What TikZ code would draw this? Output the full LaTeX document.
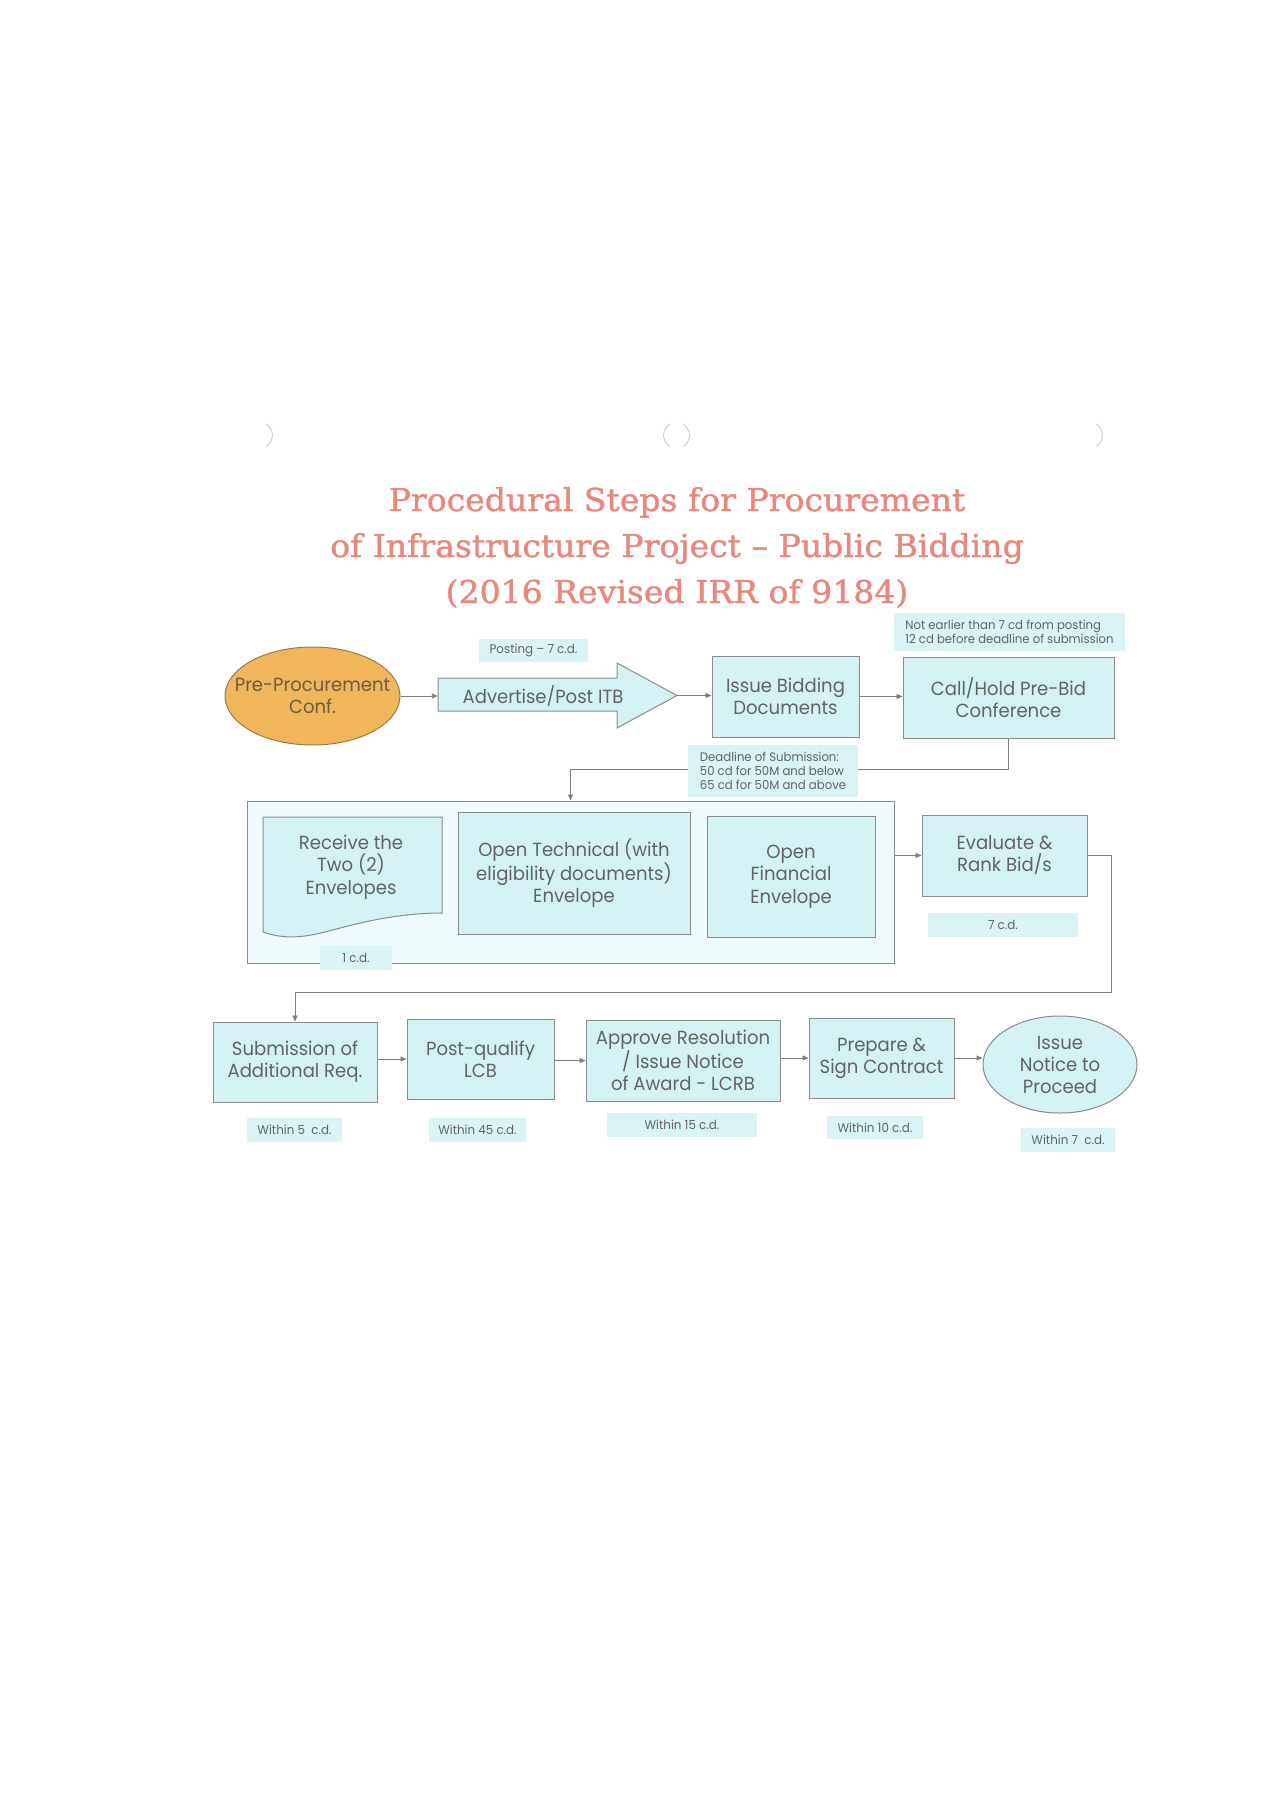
\documentclass[tikz,border=0pt]{standalone}
\usepackage{fontspec}
\setmainfont{Poppins}[FakeStretch=0.95]
\newfontfamily\titlefont{DejaVu Serif}[FakeStretch=1.05,FakeBold=1.2]
\newfontfamily\notefont{Poppins}[FakeStretch=0.95]
\usetikzlibrary{shapes.geometric,arrows.meta,calc}
\definecolor{boxfill}{HTML}{D4F2F4}
\definecolor{lblfill}{HTML}{DAF4F6}
\definecolor{bigfill}{HTML}{EEFAFB}
\definecolor{boxline}{HTML}{8C8C8C}
\definecolor{txtgray}{HTML}{636363}
\definecolor{titlecol}{HTML}{E8877C}
\definecolor{orangefill}{HTML}{F1B65C}
\definecolor{orangeline}{HTML}{9B7B4A}
\definecolor{orangetxt}{HTML}{6F5C43}
\definecolor{holecol}{HTML}{C8C8C8}
\tikzset{
  stepbox/.style={draw=boxline, fill=boxfill, line width=1pt, align=center, text=txtgray,
    font=\fontsize{19}{22}\selectfont, inner sep=0pt},
  lbl/.style={fill=lblfill, text=txtgray, inner sep=0pt, align=center,
    font=\notefont\fontsize{12.5}{14.5}\selectfont},
  note/.style={fill=lblfill, text=txtgray, inner sep=0pt, align=left,
    font=\notefont\fontsize{12.3}{14}\selectfont},
  arr/.style={draw=boxline!90!black, line width=0.9pt, -{Triangle[length=6pt,width=5pt]}},
  ttl/.style={text=titlecol, font=\titlefont\fontsize{31.5}{46}\selectfont, anchor=base, inner sep=0pt},
  hole/.style={draw=holecol, line width=0.8pt}
}
\begin{document}
\begin{tikzpicture}[x=1pt,y=-1pt]
\useasboundingbox[fill=white] (0,0) rectangle (1272,1800);

% scan punch-hole marks
\draw[hole] (266,424) arc[start angle=60,end angle=-60,radius=13pt];
\draw[hole] (670,424) arc[start angle=120,end angle=240,radius=13pt];
\draw[hole] (683,424) arc[start angle=60,end angle=-60,radius=13pt];
\draw[hole] (1096,424) arc[start angle=60,end angle=-60,radius=13pt];

% title
\node[ttl] (t1) at (677,511) {Procedural Steps for Procurement};
\node[ttl] (t2) at (677,557) {of Infrastructure Project – Public Bidding};
\node[ttl] (t3) at (677,603) {(2016 Revised IRR of 9184)};

% top row
\node[ellipse, draw=orangeline, fill=orangefill, line width=1pt, text=orangetxt, align=center,
      font=\fontsize{19}{22}\selectfont, inner xsep=-16pt, inner ysep=0pt, minimum width=175pt, minimum height=98pt]
      (pre) at (312.5,696) {Pre-Procurement\\Conf.};
\filldraw[draw=boxline, fill=boxfill, line width=1pt]
  (438,678) -- (617,678) -- (617,663) -- (677,695.5) -- (617,728) -- (617,711) -- (438,711) -- cycle;
\node[inner sep=0pt, minimum width=239pt, minimum height=65pt] (adv) at (557.5,695.5) {};
\node[text=txtgray, font=\fontsize{19}{22}\selectfont, inner sep=0pt] (advtxt) at (543,696) {Advertise/Post ITB};
\node[stepbox, minimum width=147pt, minimum height=81pt] (issue) at (785.5,696.5) {Issue Bidding\\Documents};
\node[stepbox, minimum width=211pt, minimum height=81pt] (callhold) at (1008.5,697.5) {Call/Hold Pre-Bid\\Conference};

% middle row
\node[draw=boxline, fill=bigfill, line width=1pt, inner sep=0pt, minimum width=647pt, minimum height=162pt]
  (big) at (570.5,882) {};
\filldraw[draw=boxline, fill=boxfill, line width=1pt]
  (263,817) -- (442,817) -- (442,913)
  .. controls (395,913) and (355,924) .. (325,932)
  .. controls (298,939) and (280,938) .. (263,932) -- cycle;
\node[text=txtgray, align=center, font=\fontsize{19}{22.5}\selectfont, inner sep=0pt] (receive) at (351,867)
  {Receive the\\Two (2)\\Envelopes};
\node[stepbox, minimum width=232pt, minimum height=122pt, font=\fontsize{19}{22.5}\selectfont] (opentech) at (574,873)
  {Open Technical (with\\eligibility documents)\\Envelope};
\node[stepbox, minimum width=168pt, minimum height=121pt, font=\fontsize{19}{22.5}\selectfont] (openfin) at (791,876.5)
  {Open\\Financial\\Envelope};
\node[stepbox, minimum width=165pt, minimum height=81pt] (eval) at (1004.5,855.5) {Evaluate \&\\Rank Bid/s};

% bottom row
\node[stepbox, minimum width=164pt, minimum height=80pt] (sub) at (295,1062) {Submission of\\Additional Req.};
\node[stepbox, minimum width=147pt, minimum height=80pt] (post) at (480.5,1059) {Post-qualify\\LCB};
\node[stepbox, minimum width=194pt, minimum height=81pt] (approve) at (683,1060.5) {Approve Resolution\\/ Issue Notice\\of Award - LCRB};
\node[stepbox, minimum width=145pt, minimum height=80pt] (prepare) at (881.5,1058) {Prepare \&\\Sign Contract};
\node[stepbox, ellipse, minimum width=154pt, minimum height=97pt] (ntp) at (1060,1064.5) {Issue\\Notice to\\Proceed};

% connectors
\draw[arr] (pre.east) -- (pre.east -| adv.west);
\draw[arr] (adv.east) -- (adv.east -| issue.west);
\draw[arr] (issue.east) -- (issue.east -| callhold.west);
\draw[arr] (callhold.south) |- ($(callhold.south)!0.5!(big.north)$) -| (big.north);
\draw[arr] (big.east |- eval.west) -- (eval.west);
\coordinate (r1) at (1111,992);
\draw[arr] (eval.east) -| (r1) -| (sub.north);
\draw[arr] (post.west -| sub.east) -- (post.west);
\draw[arr] (approve.west -| post.east) -- (approve.west);
\draw[arr] (prepare.west -| approve.east) -- (prepare.west);
\draw[arr] (prepare.east) -- (prepare.east -| ntp.west);

% labels
\node[lbl, minimum width=109pt, minimum height=23pt] (posting) at (533.5,650.5) {Posting – 7 c.d.};
\node[note, minimum width=231pt, minimum height=38pt] (note1) at (1009.5,632)
  {Not earlier than 7 cd from posting\\12 cd before deadline of submission};
\node[note, minimum width=170pt, minimum height=52pt] (deadline) at (773,771)
  {Deadline of Submission:\\50 cd for 50M and below\\65 cd for 50M and above};
\node[lbl, minimum width=72pt, minimum height=24pt] (onecd) at (356,958) {1 c.d.};
\node[lbl, minimum width=150pt, minimum height=24pt] (sevencd) at (1003,925) {7 c.d.};
\node[lbl, minimum width=95pt, minimum height=24pt] (w5) at (294.5,1130) {Within 5\enspace c.d.};
\node[lbl, minimum width=97pt, minimum height=24pt] (w45) at (477.5,1130) {Within 45 c.d.};
\node[lbl, minimum width=150pt, minimum height=24pt] (w15) at (682,1125) {Within 15 c.d.};
\node[lbl, minimum width=96pt, minimum height=23pt] (w10) at (875,1127.5) {Within 10 c.d.};
\node[lbl, minimum width=94pt, minimum height=24pt] (w7) at (1068,1140) {Within 7\enspace c.d.};
\end{tikzpicture}
\end{document}
